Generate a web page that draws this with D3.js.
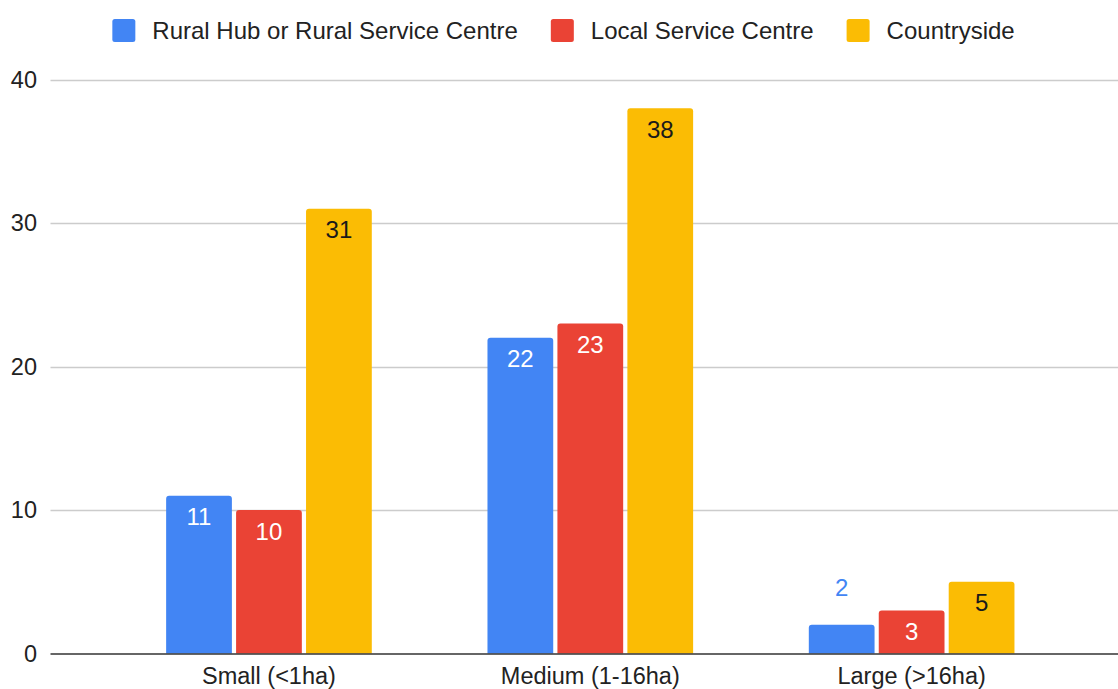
<!DOCTYPE html>
<html>
<head>
<meta charset="utf-8">
<script src="https://cdn.jsdelivr.net/npm/d3@7"></script>
<style>
  body { margin: 0; background: #fff; }
  svg { display: block; font-family: "Liberation Sans", Arial, sans-serif; }
</style>
</head>
<body>
<div id="chart"></div>
<script>
// chart data
const categories = ['Small (<1ha)', 'Medium (1-16ha)', 'Large (>16ha)'];
const seriesNames = ['Rural Hub or Rural Service Centre', 'Local Service Centre', 'Countryside'];
const ruralHub = [11, 22, 2];
const localCentre = [10, 23, 3];
const countryside = [31, 38, 5];
const yTicks = [0, 10, 20, 30, 40];

const colors = ['#4285F4', '#EA4335', '#FBBC04'];
const labelInside = ['#ffffff', '#ffffff', '#1a1a1a'];

const width = 1118, height = 689;
const margin = { top: 79.5, right: 0, bottom: 35, left: 50.5 };

const svg = d3.select('#chart').append('svg')
    .attr('width', width)
    .attr('height', height);

const y = d3.scaleLinear()
    .domain([0, 40])
    .range([653.5, 79.5]);

const x0 = d3.scaleBand()
    .domain(categories)
    .range([108.3, 1072.3])
    .paddingInner(0.36)
    .paddingOuter(0.18);

const x1 = d3.scaleBand()
    .domain(seriesNames)
    .range([0, x0.bandwidth()])
    .paddingInner(0.06)
    .paddingOuter(0);

// gridlines
svg.append('g')
    .selectAll('line')
    .data(yTicks.filter(t => t !== 0))
    .join('line')
    .attr('x1', margin.left)
    .attr('x2', width)
    .attr('y1', d => Math.round(y(d)) + 0.5)
    .attr('y2', d => Math.round(y(d)) + 0.5)
    .attr('stroke', '#cccccc')
    .attr('stroke-width', 1.3);

// y tick labels
svg.append('g')
    .selectAll('text')
    .data(yTicks)
    .join('text')
    .attr('x', 37)
    .attr('y', d => y(d))
    .attr('dy', '0.36em')
    .attr('text-anchor', 'end')
    .attr('font-size', '23.5px')
    .attr('fill', '#222')
    .text(d => d);

// bars
const rows = categories.map((c, i) => ({
    category: c,
    values: [ruralHub[i], localCentre[i], countryside[i]]
}));

function topRounded(x, yTop, w, h, r) {
    r = Math.min(r, h);
    return 'M' + x + ',' + (yTop + h) +
        'V' + (yTop + r) +
        'Q' + x + ',' + yTop + ' ' + (x + r) + ',' + yTop +
        'H' + (x + w - r) +
        'Q' + (x + w) + ',' + yTop + ' ' + (x + w) + ',' + (yTop + r) +
        'V' + (yTop + h) + 'Z';
}

const group = svg.append('g')
    .selectAll('g')
    .data(rows)
    .join('g')
    .attr('transform', d => 'translate(' + x0(d.category) + ',0)');

const cell = group.selectAll('g')
    .data(d => d.values.map((v, j) => ({ series: seriesNames[j], j: j, value: v })))
    .join('g');

cell.append('path')
    .attr('d', d => topRounded(x1(d.series), y(d.value), x1.bandwidth(), y(0) - y(d.value), 3))
    .attr('fill', d => colors[d.j]);

cell.append('text')
    .attr('x', d => x1(d.series) + x1.bandwidth() / 2)
    .attr('y', d => {
        const h = y(0) - y(d.value);
        return h < 40 && d.j === 0 ? y(d.value) - 28.5 : y(d.value) + 29.5;
    })
    .attr('text-anchor', 'middle')
    .attr('font-size', '24px')
    .attr('fill', d => {
        const h = y(0) - y(d.value);
        return h < 40 && d.j === 0 ? colors[d.j] : labelInside[d.j];
    })
    .text(d => d.value);

// baseline
svg.append('line')
    .attr('x1', margin.left)
    .attr('x2', width)
    .attr('y1', y(0) + 0.5)
    .attr('y2', y(0) + 0.5)
    .attr('stroke', '#333')
    .attr('stroke-width', 1.5);

// category labels
svg.append('g')
    .selectAll('text')
    .data(categories)
    .join('text')
    .attr('x', d => x0(d) + x0.bandwidth() / 2)
    .attr('y', 684)
    .attr('text-anchor', 'middle')
    .attr('font-size', '23.5px')
    .attr('fill', '#222')
    .text(d => d);

// legend
const legend = svg.append('g');
const items = legend.selectAll('g')
    .data(seriesNames)
    .join('g');
items.append('rect')
    .attr('y', 19)
    .attr('width', 23)
    .attr('height', 23)
    .attr('rx', 2.5)
    .attr('fill', (d, i) => colors[i]);
items.append('text')
    .attr('x', 40)
    .attr('y', 38.5)
    .attr('font-size', '24px')
    .attr('fill', '#222')
    .text(d => d);

let lx = 0;
items.each(function () {
    const g = d3.select(this);
    g.attr('transform', 'translate(' + lx + ',0)');
    lx += 40 + g.select('text').node().getComputedTextLength() + 33;
});
const legendWidth = lx - 33;
legend.attr('transform', 'translate(' + (563.5 - legendWidth / 2) + ',0)');
</script>
</body>
</html>
